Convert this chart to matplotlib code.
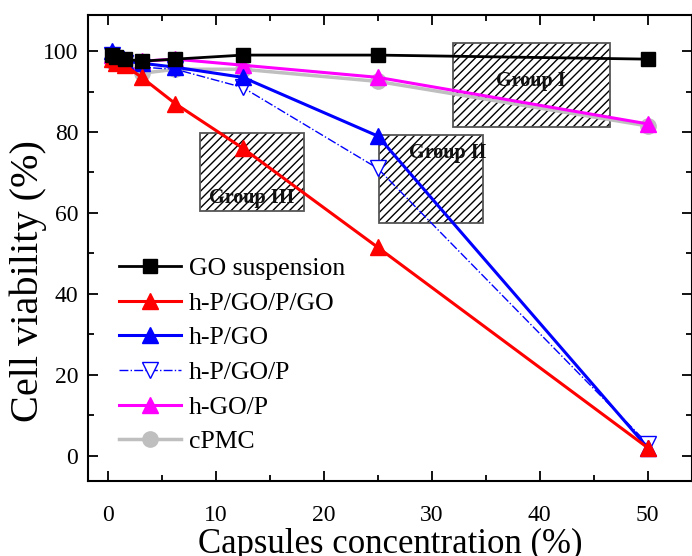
import matplotlib

matplotlib.use("Agg")
import matplotlib.pyplot as plt
from matplotlib.patches import Rectangle
from matplotlib.ticker import MultipleLocator

plt.rcParams["font.family"] = ["Liberation Serif", "DejaVu Serif"]
plt.rcParams["hatch.linewidth"] = 1.0

# capsule concentration (%)
conc = [0.39, 0.78, 1.56, 3.13, 6.25, 12.5, 25, 50]

go_susp = [99, 98.5, 98, 97.5, 98, 99, 99, 98]
hpgopgo = [98, 97, 96.5, 93.5, 87, 76, 51.5, 2]
hpgo = [100, 98, 97.5, 97, 96, 93.5, 79, 2]
hpgop = [99, 98, 97, 96, 95.5, 91, 71, 3]
hgop = [99, 98, 97.5, 97.5, 98, 96.5, 93.5, 82]
cpmc = [97.5, 97, 97, 94.5, 95.5, 95.5, 92.5, 81.5]

# hatched group boxes: (label, x0, x1, y0, y1, text x, text y)
groups = [
    ("Group I", 32.0, 46.5, 81.2, 102.0, 39.2, 92.5),
    ("Group II", 25.1, 34.7, 57.5, 79.3, 31.5, 74.8),
    ("Group III", 8.5, 18.2, 60.5, 79.8, 13.3, 63.8),
]

fig = plt.figure(figsize=(6.92, 5.56), dpi=100)
ax = fig.add_axes([0.127, 0.135, 0.873, 0.838])

for label, x0, x1, y0, y1, tx, ty in groups:
    # black hatch, grey outline
    ax.add_patch(Rectangle((x0, y0), x1 - x0, y1 - y0, fill=False,
                           hatch="////", edgecolor="black", linewidth=0,
                           zorder=1))
    ax.add_patch(Rectangle((x0, y0), x1 - x0, y1 - y0, fill=False,
                           edgecolor="#555555", linewidth=1.3, zorder=1))
    ax.text(tx, ty, label, ha="center", va="center", fontsize=14.5,
            fontweight="bold", color="#111111", zorder=2)

ax.plot(conc, cpmc, "-", marker="o", color="#bfbfbf", lw=2.5, ms=11,
        label="cPMC", zorder=3)
ax.plot(conc, hgop, "-", marker="^", color="#ff00ff", lw=2.2, ms=12,
        label="h-GO/P", zorder=3)
ax.plot(conc, hpgop, "-.", marker="v", color="blue", lw=1.0, ms=12,
        mfc="white", label="h-P/GO/P", zorder=3)
ax.plot(conc, hpgo, "-", marker="^", color="blue", lw=2.2, ms=12,
        label="h-P/GO", zorder=3)
ax.plot(conc, hpgopgo, "-", marker="^", color="red", lw=2.2, ms=12,
        label="h-P/GO/P/GO", zorder=3)
ax.plot(conc, go_susp, "-", marker="s", color="black", lw=2.0, ms=10,
        label="GO suspension", zorder=4)

ax.set_xlim(-1.85, 54.1)
ax.set_ylim(-6.2, 108.9)
ax.xaxis.set_major_locator(MultipleLocator(10))
ax.xaxis.set_minor_locator(MultipleLocator(5))
ax.yaxis.set_major_locator(MultipleLocator(20))
ax.yaxis.set_minor_locator(MultipleLocator(10))
ax.tick_params(which="both", direction="in", top=True, right=True,
               labelsize=17, width=1.3)
ax.tick_params(which="major", length=7)
ax.tick_params(which="minor", length=4)
ax.tick_params(axis="x", which="major", pad=17)
ax.tick_params(axis="y", which="major", pad=7)
for s in ax.spines.values():
    s.set_linewidth(1.5)

ax.set_xlabel("Capsules concentration (%)", fontsize=25)
ax.xaxis.set_label_coords(0.5, -0.1)
ax.xaxis.label.set_va("top")
ax.set_ylabel("Cell viability (%)", fontsize=29)
ax.yaxis.set_label_coords(-0.068, 0.43)

h, l = ax.get_legend_handles_labels()
ax.legend(h[::-1], l[::-1], loc="upper left", bbox_to_anchor=(0.035, 0.502),
          frameon=False, fontsize=18.5, handlelength=2.4, labelspacing=0.45,
          handletextpad=0.3, borderaxespad=0)

fig.savefig("out.png", dpi=100)
